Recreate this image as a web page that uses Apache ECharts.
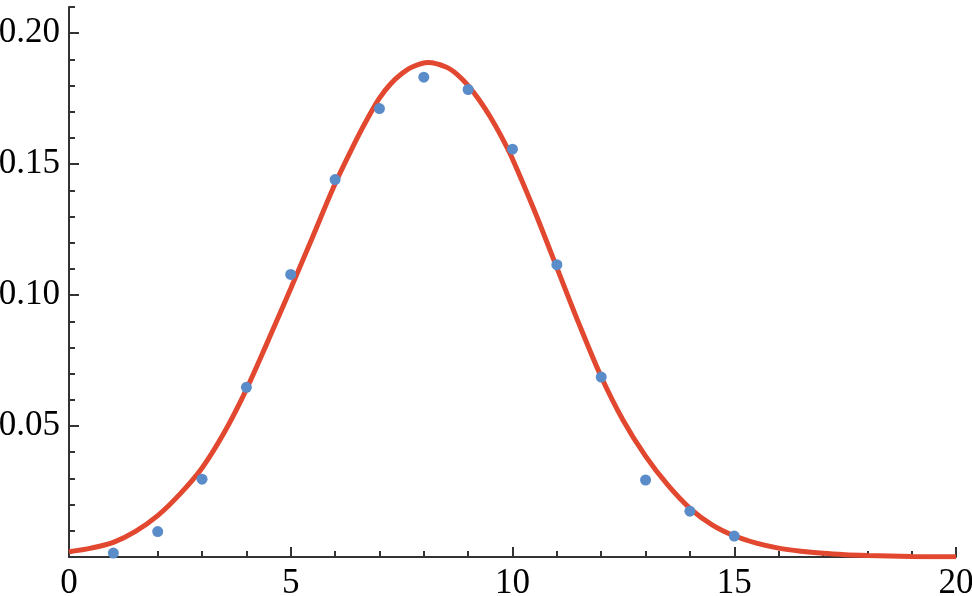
<!DOCTYPE html>
<html>
<head>
<meta charset="utf-8">
<script src="https://cdn.jsdelivr.net/npm/echarts@6/dist/echarts.min.js"></script>
<style>
html,body{margin:0;padding:0;background:#fff;}
#chart{width:972px;height:596px;}
</style>
</head>
<body>
<div id="chart"></div>
<script>
// Observed data points (blue dots)
const pointX = [1, 2, 3, 4, 5, 6, 7, 8, 9, 10, 11, 12, 13, 14, 15];
const pointY = [0.0015, 0.0097, 0.0297, 0.0648, 0.1079, 0.1441, 0.1712, 0.1832, 0.1785, 0.1557, 0.1116, 0.0687, 0.0294, 0.0175, 0.0080];

// Fitted curve (red)
const curveX = [0, 0.5, 1, 1.5, 2, 2.5, 3, 3.5, 4, 4.5, 5, 5.5, 6, 6.5, 6.75, 7, 7.25, 7.5, 7.75, 8.1, 8.5, 8.75, 9, 9.25, 9.5, 9.75, 10, 10.5, 11, 11.5, 12, 12.5, 13, 13.5, 14, 14.5, 15, 15.5, 16, 16.5, 17, 17.5, 18, 18.5, 19, 19.5, 20];
const curveY = [0.0020, 0.0034, 0.0056, 0.0098, 0.0158, 0.0240, 0.0340, 0.0475, 0.0640, 0.0830, 0.1025, 0.1225, 0.1425, 0.1600, 0.1680, 0.1752, 0.1806, 0.1845, 0.1872, 0.1888, 0.1871, 0.1843, 0.1800, 0.1745, 0.1680, 0.1605, 0.1520, 0.1320, 0.1105, 0.0890, 0.0688, 0.0520, 0.0385, 0.0275, 0.0186, 0.0123, 0.0081, 0.0053, 0.0034, 0.0022, 0.0014, 0.0009, 0.0006, 0.0004, 0.0002, 0.0001, 0.0001];

// Axis tick labels
const yMajorTicks = [0.05, 0.10, 0.15, 0.20];
const xMajorTicks = [0, 5, 10, 15, 20];

const font = "'Liberation Serif', 'Times New Roman', serif";

const chart = echarts.init(document.getElementById('chart'), null, {renderer: 'canvas'});
chart.setOption({
  animation: false,
  backgroundColor: '#fff',
  grid: {left: 69, right: 16, top: 7, bottom: 39, containLabel: false, outerBoundsMode: 'none'},
  xAxis: {
    type: 'value',
    min: 0, max: 20, interval: 5,
    axisLine: {show: true, onZero: false, lineStyle: {color: '#333', width: 2}},
    axisTick: {show: true, inside: true, length: 10, lineStyle: {color: '#333', width: 2}},
    minorTick: {show: true, splitNumber: 5, length: 6, lineStyle: {color: '#333', width: 2}},
    splitLine: {show: false},
    minorSplitLine: {show: false},
    axisLabel: {
      show: true, margin: 9, color: '#000', fontFamily: font, fontSize: 35,
      formatter: v => xMajorTicks.includes(Math.round(v)) ? String(Math.round(v)) : ''
    }
  },
  yAxis: [{
    type: 'value',
    position: 'left',
    min: 0, max: 0.21, interval: 0.01,
    axisLine: {show: true, onZero: false, lineStyle: {color: '#333', width: 2}},
    axisTick: {show: true, inside: true, length: 6, lineStyle: {color: '#333', width: 2}},
    splitLine: {show: false},
    axisLabel: {
      show: true, margin: 9, color: '#000', fontFamily: font, fontSize: 35,
      formatter: v => {
        const r = Math.round(v * 100) / 100;
        return yMajorTicks.some(t => Math.abs(t - r) < 1e-9) ? r.toFixed(2) : '';
      }
    }
  }, {
    type: 'value',
    position: 'left',
    offset: 0,
    min: 0, max: 0.21, interval: 0.05,
    axisLine: {show: false},
    axisTick: {show: true, inside: true, length: 10, customValues: yMajorTicks, lineStyle: {color: '#333', width: 2}},
    splitLine: {show: false},
    axisLabel: {show: false}
  }],
  series: [{
    name: 'fit',
    type: 'line',
    yAxisIndex: 0,
    data: curveX.map((x, i) => [x, curveY[i]]),
    smooth: 0.3,
    showSymbol: false,
    lineStyle: {color: '#e2472f', width: 5},
    z: 3
  }, {
    name: 'data',
    type: 'scatter',
    yAxisIndex: 0,
    data: pointX.map((x, i) => [x, pointY[i]]),
    symbolSize: 11,
    itemStyle: {color: '#5b8cca', opacity: 1},
    z: 4
  }]
});
</script>
</body>
</html>
